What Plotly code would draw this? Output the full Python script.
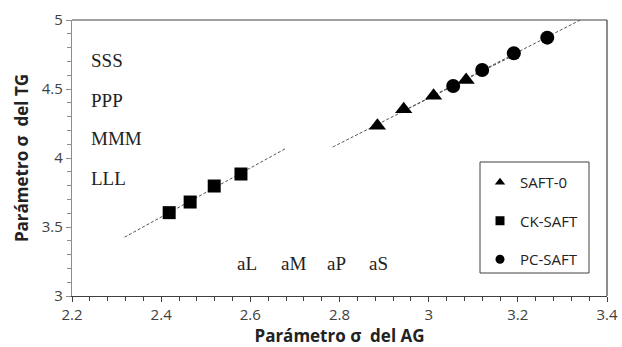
import numpy as np
import plotly.graph_objects as go

# sigma parameters: AG (x) vs TG (y) for three SAFT variants
saft0_x = [2.885, 2.944, 3.011, 3.084]
saft0_y = [4.234, 4.353, 4.451, 4.565]

ck_x = [2.418, 2.465, 2.519, 2.579]
ck_y = [3.604, 3.681, 3.797, 3.884]

pc_x = [3.055, 3.120, 3.191, 3.266]
pc_y = [4.522, 4.638, 4.759, 4.872]

series_names = ["SAFT-0", "CK-SAFT", "PC-SAFT"]
symbols = ["triangle-up", "square", "circle"]

left_labels = ["SSS", "PPP", "MMM", "LLL"]
left_label_y = [4.703, 4.42, 4.138, 3.855]
bottom_labels = ["aL", "aM", "aP", "aS"]
bottom_label_x = [2.593, 2.696, 2.793, 2.887]

x_ticks = [2.2, 2.4, 2.6, 2.8, 3.0, 3.2, 3.4]
x_tick_text = ["2.2", "2.4", "2.6", "2.8", "3", "3.2", "3.4"]
y_ticks = [3.0, 3.5, 4.0, 4.5, 5.0]
y_tick_text = ["3", "3.5", "4", "4.5", "5"]

FORECAST = 0.1  # trendline extension beyond each series

fig = go.Figure()

datasets = [(saft0_x, saft0_y), (ck_x, ck_y), (pc_x, pc_y)]
marker_sizes = [15, 13, 14]

# linear trendlines
for xs, ys in datasets:
    m, b = np.polyfit(xs, ys, 1)
    xl = np.array([min(xs) - FORECAST, max(xs) + FORECAST])
    fig.add_trace(go.Scatter(
        x=xl, y=m * xl + b, mode="lines",
        line=dict(color="#555555", width=1, dash="3px,2px"),
        showlegend=False, hoverinfo="skip"))

# data markers
for (xs, ys), name, sym, sz in zip(datasets, series_names, symbols, marker_sizes):
    fig.add_trace(go.Scatter(
        x=xs, y=ys, mode="markers", name=name, showlegend=False,
        marker=dict(symbol=sym, size=sz, color="black")))

# legend entries with smaller symbols
for i, (name, sym) in enumerate(zip(series_names, symbols)):
    fig.add_trace(go.Scatter(
        x=[None], y=[None], mode="markers", name=name,
        legendgroup=f"g{i}",
        marker=dict(symbol=sym, size=9, color="black")))

serif = "Liberation Serif, Times New Roman, serif"
for txt, yv in zip(left_labels, left_label_y):
    fig.add_annotation(x=2.238, y=yv, text=txt, showarrow=False,
                       xanchor="left", yanchor="middle",
                       font=dict(family=serif, size=19, color="#222222"))
for txt, xv in zip(bottom_labels, bottom_label_x):
    fig.add_annotation(x=xv, y=3.232, text=txt, showarrow=False,
                       xanchor="center", yanchor="middle",
                       font=dict(family=serif, size=19, color="#222222"))

# top and right frame lines
fig.add_shape(type="line", xref="paper", yref="paper", x0=0, x1=1, y0=1, y1=1,
              line=dict(color="#404040", width=1.2))
fig.add_shape(type="line", xref="paper", yref="paper", x0=1, x1=1, y0=0, y1=1,
              line=dict(color="#404040", width=1.2))

# legend frame
PW, PH, L, T = 535, 276, 72, 20
def px_to_paper(px, py):
    return (px - L) / PW, 1 - (py - T) / PH
bx0, by0 = px_to_paper(480, 273)
bx1, by1 = px_to_paper(589, 162)
fig.add_shape(type="rect", xref="paper", yref="paper",
              x0=bx0, x1=bx1, y0=by0, y1=by1,
              line=dict(color="#404040", width=1), fillcolor="rgba(0,0,0,0)")
lx, ly = px_to_paper(480, 166)

sans = "Open Sans, Noto Sans, sans-serif"
fig.update_layout(
    width=622, height=347,
    margin=dict(l=72, r=15, t=20, b=51),
    plot_bgcolor="white", paper_bgcolor="white",
    font=dict(family=sans, size=15, color="#404040"),
    showlegend=True,
    legend=dict(
        x=lx, y=ly, xanchor="left", yanchor="top",
        borderwidth=0, bgcolor="rgba(0,0,0,0)",
        font=dict(family=sans, size=15, color="#222222"),
        tracegroupgap=16, itemwidth=30),
    xaxis=dict(
        range=[2.2, 3.4], tickvals=x_ticks, ticktext=x_tick_text,
        showgrid=False, zeroline=False, automargin=False,
        showline=True, linecolor="#404040", linewidth=1.2,
        ticks="outside", ticklen=5, tickcolor="#404040",
        minor=dict(dtick=0.04, ticks="outside", ticklen=4, tickcolor="#404040"),
        title=dict(text="<b>Parámetro σ  del AG</b>", standoff=4,
                   font=dict(family=sans, size=17, color="#222222"))),
    yaxis=dict(
        range=[3, 5], tickvals=y_ticks, ticktext=y_tick_text,
        showgrid=False, zeroline=False, automargin=False,
        showline=True, linecolor="#8c8c8c", linewidth=1.2,
        ticks="outside", ticklen=5, tickcolor="#8c8c8c",
        minor=dict(dtick=0.1, ticks="outside", ticklen=4, tickcolor="#8c8c8c"),
        title=dict(text="<b>Parámetro σ  del TG</b>", standoff=8,
                   font=dict(family=sans, size=17, color="#222222"))),
)

fig.write_html("out.html")
